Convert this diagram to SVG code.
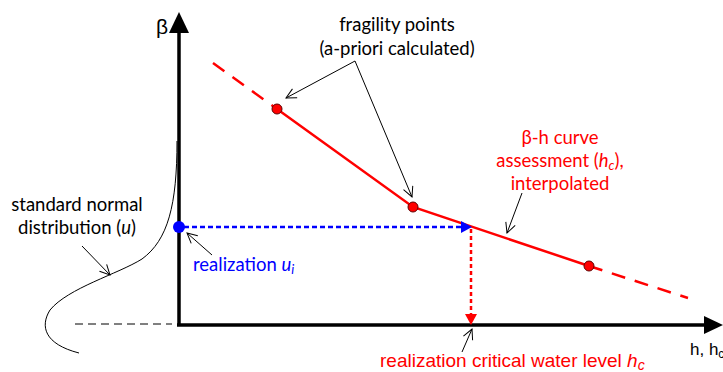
<svg xmlns="http://www.w3.org/2000/svg" width="723" height="372" viewBox="0 0 723 372">
<style>
.lbl{font-family:Lato,"Open Sans",sans-serif;font-size:18.5px;text-anchor:middle}
.arl{font-family:"Liberation Sans",Arial,sans-serif}
.thin{stroke:#000;stroke-width:1;fill:none}
.red{stroke:#ff0000;stroke-width:2.5;fill:none}
.pt{fill:#ff0000;stroke:#600000;stroke-width:1}
</style>
<defs>
<marker id="open" viewBox="0 0 12 12" refX="11" refY="6" markerWidth="12" markerHeight="12" markerUnits="userSpaceOnUse" orient="auto">
<path d="M1,1 L11,6 L1,11" fill="none" stroke="#000" stroke-width="1"/>
</marker>
</defs>
<g id="axes">
<line x1="179" y1="325" x2="179" y2="30" stroke="#000" stroke-width="3.5"/>
<polygon points="179,12 169,33 189,33" fill="#000"/>
<line x1="177" y1="325" x2="707" y2="325" stroke="#000" stroke-width="3.5"/>
<polygon points="723,325 704,316 704,334" fill="#000"/>
<text x="162" y="34" class="arl" font-size="21" text-anchor="middle">β</text>
<text x="690" y="355" class="arl" font-size="17">h, h<tspan font-size="12" dy="3">c</tspan></text>
</g>
<g id="normal-distribution">
<path d="M177,141 C177,205 168,240 142,259 C118,274 68,288 50,310 C40,326 44,344 79,353" class="thin" stroke-width="1.3"/>
<line x1="75" y1="324" x2="172" y2="324" stroke="#000" stroke-width="1" stroke-dasharray="8,5"/>
</g>
<g id="beta-h-curve">
<line x1="213" y1="63" x2="277" y2="109" class="red" stroke-dasharray="14,10"/>
<polyline points="277,109 413,207 589,266" class="red"/>
<line x1="589" y1="266" x2="688" y2="298" class="red" stroke-dasharray="14,10"/>
</g>
<g id="connectors">
<line x1="184" y1="227" x2="463" y2="227" stroke="#0000ff" stroke-width="2.5" stroke-dasharray="5,3"/>
<polygon points="472,227 461,221 461,233" fill="#0000ff"/>
<line x1="471" y1="229" x2="471" y2="315" stroke="#ff0000" stroke-width="2.5" stroke-dasharray="4,3"/>
<polygon points="471,325 465,314 477,314" fill="#ff0000"/>
<line x1="355" y1="61" x2="286" y2="98" class="thin" marker-end="url(#open)"/>
<line x1="355" y1="61" x2="412" y2="197" class="thin" marker-end="url(#open)"/>
<line x1="522" y1="193" x2="507" y2="233" class="thin" marker-end="url(#open)"/>
<line x1="82" y1="246" x2="110" y2="275" class="thin" marker-end="url(#open)"/>
<line x1="212" y1="255" x2="187" y2="233" class="thin" marker-end="url(#open)"/>
<line x1="462" y1="352" x2="472" y2="329" class="thin" marker-end="url(#open)"/>
</g>
<g id="points">
<circle cx="277" cy="109" r="5" class="pt"/>
<circle cx="413" cy="207" r="5" class="pt"/>
<circle cx="589" cy="266" r="5" class="pt"/>
<circle cx="179" cy="227" r="6" fill="#0000ff"/>
</g>
<g id="label-fragility">
<text x="397" y="31" class="lbl">fragility points</text>
<text x="397" y="55" class="lbl">(a-priori calculated)</text>
</g>
<g id="label-curve" fill="#ff0000">
<text x="560" y="144" class="lbl">β-h curve</text>
<text x="560" y="167" class="lbl">assessment (<tspan font-style="italic">h</tspan><tspan font-style="italic" font-size="13" dy="3">c</tspan><tspan dy="-3">),</tspan></text>
<text x="560" y="190" class="lbl">interpolated</text>
</g>
<g id="label-normal">
<text x="77" y="211" class="lbl">standard normal</text>
<text x="77" y="234" class="lbl">distribution (<tspan font-style="italic">u</tspan>)</text>
</g>
<g id="label-ui" fill="#0000ff">
<text x="193" y="271" class="lbl" style="text-anchor:start">realization <tspan font-style="italic">u</tspan><tspan font-style="italic" font-size="13" dy="3">i</tspan></text>
</g>
<g id="label-hc" fill="#ff0000">
<text x="380" y="367" class="arl" font-size="19">realization critical water level <tspan font-style="italic">h</tspan><tspan font-style="italic" font-size="14" dy="3">c</tspan></text>
</g>
</svg>
